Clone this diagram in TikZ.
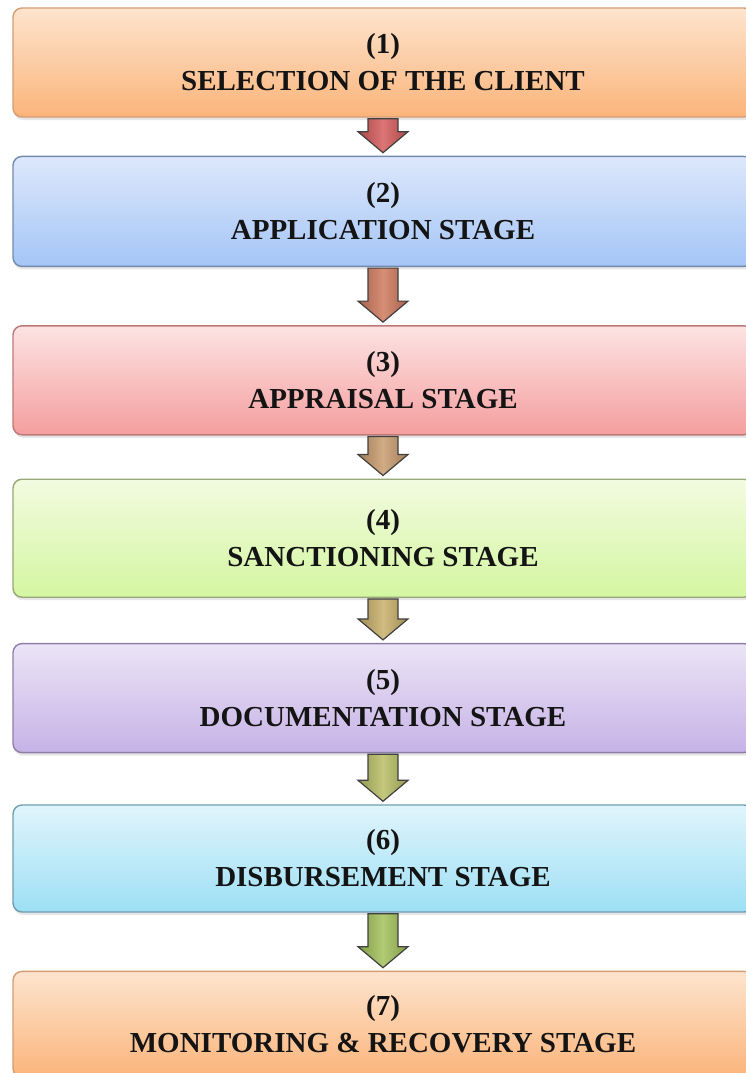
\documentclass[tikz,border=0pt]{standalone}
\usepackage{fontspec}
\setmainfont{Liberation Serif}
\usetikzlibrary{calc,positioning,shadows}

\definecolor{orangetop}{HTML}{FDE4CE}
\definecolor{orangebot}{HTML}{FBB47A}
\definecolor{orangeline}{HTML}{D49C74}
\definecolor{bluetop}{HTML}{DDE8FB}
\definecolor{bluebot}{HTML}{A4C5F6}
\definecolor{blueline}{HTML}{7489AE}
\definecolor{redtop}{HTML}{FDE3E3}
\definecolor{redbot}{HTML}{F59E9E}
\definecolor{redline}{HTML}{BE7878}
\definecolor{greentop}{HTML}{F2FBE0}
\definecolor{greenbot}{HTML}{D4F6A0}
\definecolor{greenline}{HTML}{98A878}
\definecolor{purpletop}{HTML}{EBE4F6}
\definecolor{purplebot}{HTML}{C6B2E6}
\definecolor{purpleline}{HTML}{8E7EA8}
\definecolor{cyantop}{HTML}{E0F5FC}
\definecolor{cyanbot}{HTML}{9DDFF5}
\definecolor{cyanline}{HTML}{6E9EAE}
\definecolor{arrowA}{HTML}{D65C5C}
\definecolor{arrowB}{HTML}{D07A5E}
\definecolor{arrowC}{HTML}{C99C6E}
\definecolor{arrowD}{HTML}{C8B06A}
\definecolor{arrowE}{HTML}{B8BE66}
\definecolor{arrowF}{HTML}{A2C25A}

\begin{document}
\begin{tikzpicture}[x=1pt, y=1pt,
    every node/.style={font=\bfseries\fontsize{29}{37}\selectfont, text=black!92},
    stage/.style={rectangle, rounded corners=9pt, minimum width=740pt, align=center, line width=1.4pt,
        drop shadow={opacity=0.2, shadow xshift=1pt, shadow yshift=-3pt}},
    blockarrow/.style={draw=black!75, line width=1.2pt, line join=miter}]
			\useasboundingbox (0,0) rectangle (745,-1073);
			% Stages
			\node[stage, minimum height=109pt, top color=orangetop, bottom color=orangebot, draw=orangeline] (s1) at (383,-62.5) {(1)\\SELECTION OF THE CLIENT};
			\node[stage, minimum height=110pt, top color=bluetop, bottom color=bluebot, draw=blueline, below=38pt of s1] (s2) {(2)\\APPLICATION STAGE};
			\node[stage, minimum height=109pt, top color=redtop, bottom color=redbot, draw=redline, below=58pt of s2] (s3) {(3)\\APPRAISAL STAGE};
			\node[stage, minimum height=118pt, top color=greentop, bottom color=greenbot, draw=greenline, below=43pt of s3] (s4) {(4)\\SANCTIONING STAGE};
			\node[stage, minimum height=109pt, top color=purpletop, bottom color=purplebot, draw=purpleline, below=45pt of s4] (s5) {(5)\\DOCUMENTATION STAGE};
			\node[stage, minimum height=107pt, top color=cyantop, bottom color=cyanbot, draw=cyanline, below=51pt of s5] (s6) {(6)\\DISBURSEMENT STAGE};
			\node[stage, minimum height=106pt, top color=orangetop, bottom color=orangebot, draw=orangeline, below=58pt of s6] (s7) {(7)\\MONITORING \& RECOVERY STAGE};
			
			% Arrows
			\foreach \a/\b/\c in {s1/s2/arrowA, s2/s3/arrowB, s3/s4/arrowC, s4/s5/arrowD, s5/s6/arrowE, s6/s7/arrowF}
			\draw[blockarrow, left color=\c!80!black, right color=\c!80!black, middle color=\c!85!white]
			($(\a.south)+(-15,-1)$) -- ($(\a.south)+(15,-1)$) -- ($(\b.north)+(15,24)$) -- ($(\b.north)+(25,24)$)
			-- ($(\b.north)+(0,3)$) -- ($(\b.north)+(-25,24)$) -- ($(\b.north)+(-15,24)$) -- cycle;
		\end{tikzpicture}
\end{document}
